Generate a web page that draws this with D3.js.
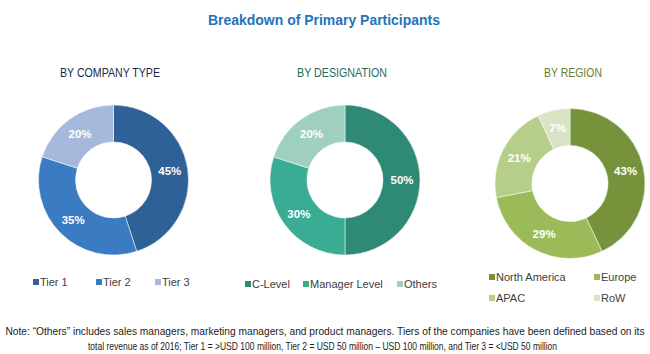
<!DOCTYPE html>
<html lang="en">
<head>
<meta charset="utf-8">
<title>Breakdown of Primary Participants</title>
<script src="https://cdn.jsdelivr.net/npm/d3@7"></script>
<style>
  body { margin: 0; background: #fff; }
  svg text { font-family: "Liberation Sans Narrow", "Liberation Sans", Arial, sans-serif; }
</style>
</head>
<body>
<div id="chart"></div>
<script>
// data
var companyLabels = ['Tier 1', 'Tier 2', 'Tier 3'],
    companyValues = [45, 35, 20];
var designationLabels = ['C-Level', 'Manager Level', 'Others'],
    designationValues = [50, 30, 20];
var regionLabels = ['North America', 'Europe', 'APAC', 'RoW'],
    regionValues = [43, 29, 21, 7];

var W = 650, H = 354;
var svg = d3.select('#chart').append('svg')
    .attr('width', W)
    .attr('height', H);

// title (squeezed to the reference width)
svg.append('text')
    .attr('x', 208).attr('y', 25)
    .attr('textLength', 232)
    .attr('lengthAdjust', 'spacingAndGlyphs')
    .style('font-size', '14px')
    .style('font-weight', 'bold')
    .style('fill', '#1f74b9')
    .text('Breakdown of Primary Participants');

var charts = [
  { title: 'BY COMPANY TYPE', titleX: 60, titleW: 100, titleColor: '#1c2a48',
    cx: 113.5, cy: 180, labels: companyLabels, values: companyValues,
    colors: ['#2e6197', '#3b7bc2', '#a6b8db'],
    legend: [[33, 282], [96, 282], [155, 282]] },
  { title: 'BY DESIGNATION', titleX: 297, titleW: 90, titleColor: '#2a6b57',
    cx: 345, cy: 180, labels: designationLabels, values: designationValues,
    colors: ['#2e8a75', '#3aac93', '#9fd0bf'],
    legend: [[245, 284], [303, 284], [397, 284]] },
  { title: 'BY REGION', titleX: 544, titleW: 58, titleColor: '#6b7d2c',
    cx: 570, cy: 183.5, labels: regionLabels, values: regionValues,
    colors: ['#76933c', '#9bbb59', '#b5ce8a', '#d8e4c3'],
    legend: [[489, 277], [594, 277], [489, 298], [594, 298]] }
];

var outerR = 75, innerR = 38;

charts.forEach(function(c) {
  // sub title
  svg.append('text')
      .attr('x', c.titleX).attr('y', 77)
      .attr('textLength', c.titleW)
      .attr('lengthAdjust', 'spacingAndGlyphs')
      .style('font-size', '13px')
      .style('fill', c.titleColor)
      .text(c.title);

  var pie = d3.pie().sort(null).value(function(d) { return d; });
  var arc = d3.arc().innerRadius(innerR).outerRadius(outerR);
  var labelArc = d3.arc().innerRadius(57).outerRadius(57);

  var g = svg.append('g')
      .attr('transform', 'translate(' + c.cx + ',' + c.cy + ')');

  var arcs = pie(c.values);

  g.selectAll('path')
      .data(arcs)
      .enter()
      .append('path')
      .attr('d', arc)
      .style('fill', function(d, i) { return c.colors[i]; })
      .style('stroke', '#fff')
      .style('stroke-width', 0.5);

  g.selectAll('.lbl')
      .data(arcs)
      .enter()
      .append('text')
      .attr('class', 'lbl')
      .attr('transform', function(d) { return 'translate(' + labelArc.centroid(d) + ')'; })
      .attr('dy', '0.35em')
      .attr('text-anchor', 'middle')
      .style('font-size', '11.5px')
      .style('font-weight', 'bold')
      .style('fill', '#fff')
      .text(function(d) { return d.data + '%'; });

  // legend
  c.labels.forEach(function(name, i) {
    var p = c.legend[i];
    svg.append('rect')
        .attr('x', p[0]).attr('y', p[1] - 3)
        .attr('width', 6).attr('height', 6)
        .style('fill', c.colors[i]);
    svg.append('text')
        .attr('x', p[0] + 7).attr('y', p[1])
        .attr('dy', '0.35em')
        .style('font-size', '11px')
        .style('fill', '#404040')
        .text(name);
  });
});

// note: scale each line horizontally to the reference width
var note = ['Note: \u201cOthers\u201d includes sales managers, marketing managers, and product managers. Tiers of the companies have been defined based on its',
            'total revenue as of 2016; Tier 1 = >USD 100 million, Tier 2 = USD 50 million \u2013 USD 100 million, and Tier 3 = <USD 50 million'],
    noteX = [325, 322.5],
    noteW = [640, 470];
note.forEach(function(line, i) {
  var ng = svg.append('g');
  var t = ng.append('text')
      .attr('x', 0).attr('y', 0)
      .attr('text-anchor', 'middle')
      .style('font-size', '10.5px')
      .style('fill', '#222')
      .text(line);
  var sx = noteW[i] / t.node().getComputedTextLength();
  ng.attr('transform', 'translate(' + noteX[i] + ',' + (335 + i * 15) + ') scale(' + sx + ',1)');
});
</script>
</body>
</html>
